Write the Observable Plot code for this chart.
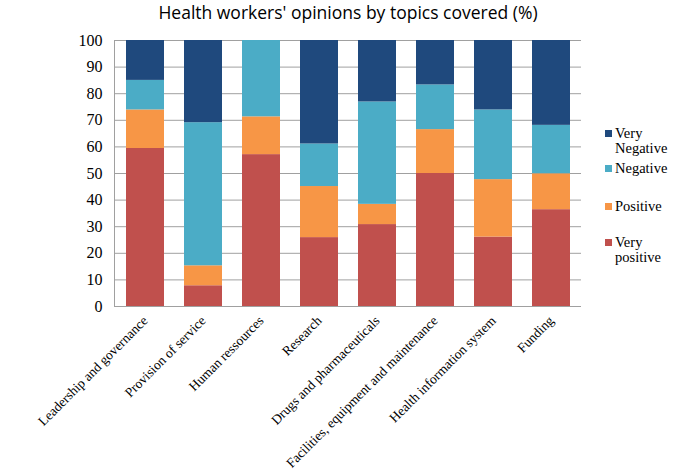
<!DOCTYPE html>
<html><head><meta charset="utf-8">
<script src="https://cdn.jsdelivr.net/npm/d3@7"></script>
<script src="https://cdn.jsdelivr.net/npm/@observablehq/plot@0.6"></script>
<style>
body{margin:0;background:#fff}
#wrap{position:relative;width:693px;height:475px;overflow:hidden}
.leg{position:absolute;left:605px;font-family:"Liberation Serif","Times New Roman",serif;font-size:14.5px;line-height:14.5px;color:#000;display:flex;align-items:flex-start}
.leg i{display:inline-block;width:7px;height:7px;margin-right:3px;margin-top:4px;flex:none}
</style>
</head><body><div id="wrap"></div>
<script>
const title = "Health workers' opinions by topics covered (%)";
const topics = ["Leadership and governance","Provision of service","Human ressources","Research","Drugs and pharmaceuticals","Facilities, equipment and maintenance","Health information system","Funding"];
const series = ["Very positive","Positive","Negative","Very Negative"];
const colors = ["#C0504D","#F79646","#4BACC6","#1F497D"];
const veryPositive = [59.4, 7.8, 57.1, 25.9, 30.8, 50.0, 26.1, 36.4];
const positive     = [14.5, 7.5, 14.2, 19.2,  7.6, 16.5, 21.6, 13.5];
const negative     = [11.1, 53.8, 28.7, 16.0, 38.5, 16.8, 26.2, 18.2];
const veryNegative = [15.0, 30.9, 0.0, 38.9, 23.1, 16.7, 26.1, 31.9];
const yTicks = [0,10,20,30,40,50,60,70,80,90,100];
const legendLabels = [["Very","Negative"],["Negative"],["Positive"],["Very","positive"]];
const legendColors = ["#1F497D","#4BACC6","#F79646","#C0504D"];

const values = [veryPositive, positive, negative, veryNegative];
const data = [];
topics.forEach((t, i) => series.forEach((s, j) => data.push({topic: t, series: s, value: values[j][i]})));

const chart = Plot.plot({
  width: 693, height: 475,
  marginLeft: 114, marginRight: 112, marginTop: 40, marginBottom: 169,
  x: {domain: topics, paddingInner: 0.35, paddingOuter: 0.175, label: null},
  y: {domain: [0, 100], label: null},
  color: {domain: series, range: colors},
  style: {background: "#fff", color: "#000", fontFamily: "Liberation Serif"},
  marks: [
    Plot.gridY(yTicks, {stroke: "#a0a0a0", strokeOpacity: 1, strokeWidth: 1}),
    Plot.frame({anchor: "left", stroke: "#a0a0a0"}),
    Plot.barY(data, {x: "topic", y: "value", fill: "series", order: series}),
    Plot.axisY(yTicks, {tickSize: 0, tickPadding: 12, fontSize: 16, fontFamily: "Liberation Serif", label: null}),
    Plot.axisX({tickSize: 0, tickPadding: 12, tickRotate: -45, fontSize: 13.5, fontFamily: "Liberation Serif", label: null}),
    Plot.text([title], {frameAnchor: "top", lineAnchor: "middle", dy: -27, fontSize: 17.5, fontFamily: "Open Sans", fill: "#000"})
  ]
});
const wrap = document.getElementById("wrap");
wrap.appendChild(chart);

const legendTops = [126, 161, 199, 235];
legendLabels.forEach((lines, k) => {
  const d = document.createElement("div");
  d.className = "leg";
  d.style.top = legendTops[k] + "px";
  d.innerHTML = `<i style="background:${legendColors[k]}"></i><span>${lines.join("<br>")}</span>`;
  wrap.appendChild(d);
});
</script>
</body></html>
